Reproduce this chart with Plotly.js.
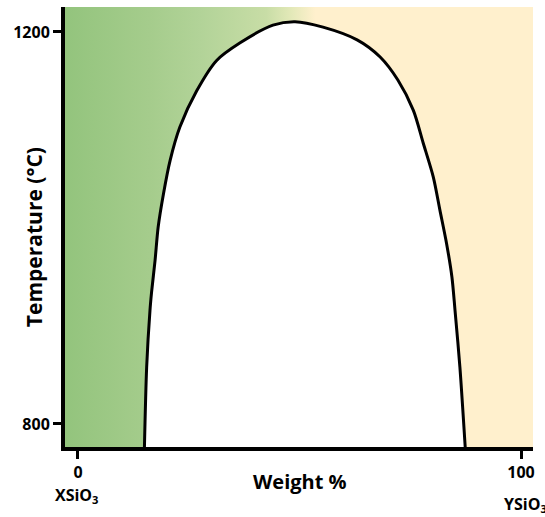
<!DOCTYPE html>
<html>
<head>
<meta charset="utf-8">
<script src="https://cdn.plot.ly/plotly-3.0.1.min.js"></script>
<style>html,body{margin:0;padding:0;background:#fff;}#chart{width:545px;height:517px;}</style>
</head>
<body>
<div id="chart"></div>
<script>
// Solvus curve (weight % vs temperature °C)
var solvusWeight = [15.0, 15.5, 16.25, 16.6, 17.4, 18.1, 19.3, 20.8, 23.0, 26.8, 31.3, 36.6, 44.0, 49.0, 55.3, 63.0, 68.2, 72.2, 75.7, 77.9, 80.2, 81.7, 83.2, 84.4, 85.1, 86.2, 87.4];
var solvusTemp   = [776.5, 858, 916, 934, 967, 1001, 1035, 1069, 1103, 1140, 1171, 1189, 1207, 1210.5, 1205, 1192, 1174.5, 1151, 1120, 1087, 1052, 1018, 984, 950, 916, 858, 776.5];
var xRange = [-2.93, 102.7];
var yRange = [776.5, 1225.5];
var xTicks = [0, 100];
var yTicks = [800, 1200];
var endLabels = ['XSiO<sub>3</sub>', 'YSiO<sub>3</sub>'];

var bg = {
  x: [xRange[0], xRange[1], xRange[1], xRange[0], xRange[0]],
  y: [yRange[0], yRange[0], yRange[1], yRange[1], yRange[0]],
  mode: 'lines', line: {width: 0}, fill: 'toself',
  fillgradient: {
    type: 'horizontal', start: xRange[0], stop: xRange[1],
    colorscale: [
      [0, 'rgb(147,196,125)'],
      [0.18, 'rgb(165,204,140)'],
      [0.29, 'rgb(178,211,152)'],
      [0.43, 'rgb(200,221,166)'],
      [0.48, 'rgb(225,232,183)'],
      [0.535, 'rgb(255,240,205)'],
      [1, 'rgb(255,240,205)']
    ]
  },
  hoverinfo: 'skip', showlegend: false
};
var curve = {
  x: solvusWeight, y: solvusTemp, mode: 'lines',
  line: {color: '#000', width: 3, shape: 'spline', smoothing: 0.8},
  fill: 'toself', fillcolor: '#ffffff', showlegend: false, hoverinfo: 'skip'
};

var layout = {
  width: 545, height: 517,
  margin: {l: 65, r: 12, t: 7, b: 70},
  paper_bgcolor: '#fff', plot_bgcolor: '#fff',
  showlegend: false,
  font: {family: 'Open Sans, sans-serif', color: '#000', size: 16, weight: 'bold'},
  xaxis: {
    range: xRange, tickvals: xTicks, ticktext: xTicks.map(String),
    showgrid: false, zeroline: false, showline: true, linecolor: '#000', linewidth: 4,
    ticks: 'outside', ticklen: 8, tickwidth: 3, tickcolor: '#000',
    tickfont: {family: 'Open Sans, sans-serif', size: 16, color: '#000', weight: 'bold'}
  },
  yaxis: {
    range: yRange, tickvals: yTicks, ticktext: yTicks.map(String),
    showgrid: false, zeroline: false, showline: true, linecolor: '#000', linewidth: 4,
    ticks: 'outside', ticklen: 8, tickwidth: 3, tickcolor: '#000',
    tickfont: {family: 'Open Sans, sans-serif', size: 16, color: '#000', weight: 'bold'}
  },
  annotations: [
    {text: 'Weight %', xref: 'paper', yref: 'paper', x: 0.502, y: -0.0795, xanchor: 'center', yanchor: 'middle', showarrow: false,
     font: {family: 'Open Sans, sans-serif', size: 20, color: '#000', weight: 'bold'}},
    {text: 'Temperature (°C)', xref: 'paper', yref: 'paper', x: -0.0662, y: 0.477, xanchor: 'center', yanchor: 'middle', textangle: -90, showarrow: false,
     font: {family: 'Open Sans, sans-serif', size: 21, color: '#000', weight: 'bold'}},
    {text: endLabels[0], xref: 'paper', yref: 'paper', x: -0.0257, y: -0.080, xanchor: 'left', yanchor: 'top', showarrow: false,
     font: {family: 'Open Sans, sans-serif', size: 16, color: '#000', weight: 'bold'}},
    {text: endLabels[1], xref: 'paper', yref: 'paper', x: 0.934, y: -0.100, xanchor: 'left', yanchor: 'top', showarrow: false,
     font: {family: 'Open Sans, sans-serif', size: 16, color: '#000', weight: 'bold'}}
  ]
};
Plotly.newPlot('chart', [bg, curve], layout, {displayModeBar: false, staticPlot: true});
</script>
</body>
</html>
